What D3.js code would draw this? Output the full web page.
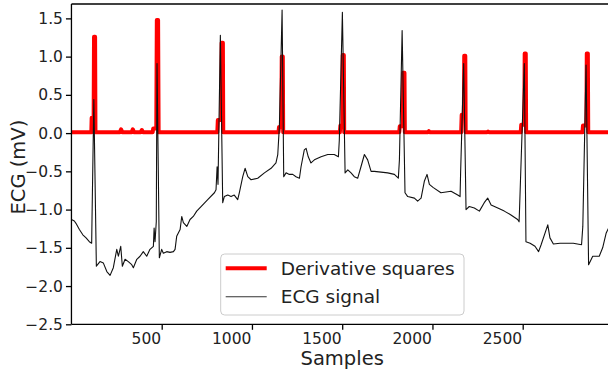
<!DOCTYPE html>
<html>
<head>
<meta charset="utf-8">
<script src="https://cdn.jsdelivr.net/npm/d3@7"></script>
<style>
  html, body { margin: 0; padding: 0; background: #fff; overflow: hidden; }
  svg { display: block; font-family: "DejaVu Sans", sans-serif; }
</style>
</head>
<body>
<svg id="chart"></svg>
<script>
// ECG signal: [sample, mV]
const ecgSignal = [
  [0,-1.13],[16,-1.15],[25,-1.18],[44,-1.26],[63,-1.33],[81,-1.37],[99,-1.42],[112,-1.44],[114,-1.11],[124,0.44],
  [138,-1.74],[158,-1.68],[177,-1.70],[196,-1.81],[214,-1.86],[232,-1.76],[251,-1.52],[260,-1.61],[273,-1.48],[282,-1.74],
  [297,-1.65],[315,-1.68],[334,-1.72],[343,-1.76],[362,-1.65],[380,-1.61],[398,-1.55],[417,-1.61],[435,-1.52],[454,-1.48],
  [458,-1.24],[463,-1.42],[470,-1.16],[474,0.91],[487,-1.63],[500,-1.52],[509,-1.57],[528,-1.55],[546,-1.56],[565,-1.55],
  [574,-1.52],[583,-1.35],[602,-1.26],[611,-1.09],[620,-1.17],[639,-1.22],[657,-1.13],[675,-1.09],[694,-1.02],[718,-0.96],
  [755,-0.87],[792,-0.78],[801,-0.74],[807,-0.44],[812,-0.67],[825,1.28],[838,-0.91],[847,-0.83],[866,-0.81],[884,-0.83],
  [902,-0.81],[921,-0.87],[930,-0.78],[949,-0.57],[962,-0.46],[977,-0.57],[995,-0.61],[1032,-0.59],[1069,-0.52],[1106,-0.46],
  [1133,-0.39],[1143,-0.28],[1152,0.09],[1167,1.61],[1176,-0.57],[1189,-0.52],[1207,-0.54],[1226,-0.54],[1244,-0.57],[1263,-0.59],
  [1272,-0.44],[1290,-0.22],[1300,-0.20],[1312,-0.31],[1327,-0.39],[1346,-0.35],[1383,-0.31],[1420,-0.28],[1456,-0.28],[1479,-0.31],
  [1484,-0.09],[1501,1.58],[1516,-0.52],[1531,-0.48],[1549,-0.52],[1567,-0.57],[1586,-0.59],[1604,-0.44],[1623,-0.28],[1641,-0.35],
  [1660,-0.50],[1678,-0.50],[1715,-0.51],[1752,-0.52],[1789,-0.54],[1811,-0.59],[1817,-0.35],[1832,1.34],[1848,-0.78],[1863,-0.83],
  [1900,-0.85],[1918,-0.89],[1937,-0.85],[1955,-0.63],[1970,-0.54],[1983,-0.67],[2003,-0.71],[2047,-0.78],[2103,-0.76],[2140,-0.81],
  [2153,-0.83],[2156,-0.52],[2173,0.91],[2186,-1.00],[2204,-0.96],[2232,-0.98],[2260,-1.02],[2287,-0.91],[2306,-0.85],[2325,-0.94],
  [2362,-0.98],[2398,-1.02],[2435,-1.07],[2472,-1.13],[2480,-1.16],[2483,-0.96],[2509,0.91],[2518,-1.42],[2541,-1.44],[2568,-1.48],
  [2588,-1.55],[2602,-1.46],[2639,-1.20],[2651,-1.37],[2670,-1.45],[2707,-1.44],[2780,-1.44],[2826,-1.46],[2833,-1.22],[2851,0.89],
  [2865,-1.72],[2888,-1.61],[2924,-1.61],[2943,-1.50],[2962,-1.31],[2980,-1.22]
];

// Derivative squares: [sample, value]
const derivSquares = [
  [0,0.01],[110,0.01],[112,0.2],[123,0.2],[125,1.26],[131,1.26],[133,0.01],
  [268,0.01],[275,0.05],[282,0.01],[333,0.01],[340,0.05],[347,0.01],[383,0.01],[390,0.04],[397,0.01],
  [450,0.01],[453,0.06],[470,0.06],[473,1.48],[480,1.48],[483,0.01],
  [808,0.01],[811,0.17],[830,0.17],[832,1.18],[839,1.18],[841,0.01],
  [1147,0.01],[1150,0.08],[1163,0.08],[1165,1.0],[1171,1.0],[1173,0.01],
  [1487,0.01],[1490,0.1],[1501,0.1],[1503,1.02],[1509,1.02],[1511,0.01],
  [1816,0.01],[1819,0.09],[1836,0.09],[1838,0.79],[1845,0.79],[1847,0.01],
  [1975,0.01],[1980,0.025],[1985,0.01],
  [2159,0.01],[2162,0.24],[2174,0.24],[2176,1.01],[2182,1.01],[2184,0.01],
  [2303,0.01],[2308,0.02],[2313,0.01],
  [2489,0.01],[2492,0.11],[2509,0.11],[2511,1.04],[2517,1.04],[2519,0.01],
  [2831,0.01],[2834,0.1],[2853,0.1],[2855,1.04],[2861,1.04],[2863,0.01],[3000,0.01]
];

const xTicks = [500, 1000, 1500, 2000, 2500];
const yTicks = [-2.5, -2.0, -1.5, -1.0, -0.5, 0.0, 0.5, 1.0, 1.5];
const seriesNames = ["Derivative squares", "ECG signal"];

const W = 608, H = 372;
const mLeft = 71.45, mRight = 612.95, mTop = 4, mBottom = 324.3;

const svg = d3.select("#chart").attr("width", W).attr("height", H);

const x = d3.scaleLinear().domain([0, 3000]).range([mLeft, mRight]);
const y = d3.scaleLinear().domain([-2.5, 1.688]).range([mBottom, mTop]);

svg.append("defs").append("clipPath").attr("id", "plotClip")
  .append("rect").attr("x", mLeft).attr("y", mTop).attr("width", mRight - mLeft).attr("height", mBottom - mTop);

const lineGen = d3.line().x(d => x(d[0])).y(d => y(d[1]));

const plot = svg.append("g").attr("clip-path", "url(#plotClip)");
plot.append("path").datum(derivSquares)
  .attr("fill", "none").attr("stroke", "#ff0000").attr("stroke-width", 4)
  .attr("stroke-linejoin", "round").attr("stroke-linecap", "round").attr("d", lineGen);
plot.append("path").datum(ecgSignal)
  .attr("fill", "none").attr("stroke", "#111").attr("stroke-width", 1.1)
  .attr("stroke-linejoin", "round").attr("d", lineGen);

// axes
const fmtY = d => d3.format(".1f")(d).replace("-", "\u2212");
const yAxis = svg.append("g").attr("transform", `translate(${mLeft},0)`)
  .call(d3.axisLeft(y).tickValues(yTicks).tickFormat(fmtY).tickSize(5.5).tickPadding(3));
const xAxis = svg.append("g").attr("transform", `translate(0,${mBottom})`)
  .call(d3.axisBottom(x).tickValues(xTicks).tickFormat(d3.format("d")).tickSize(5.5).tickPadding(3));
[xAxis, yAxis].forEach(g => {
  g.select(".domain").remove();
  g.selectAll(".tick line").attr("stroke", "#000").attr("stroke-width", 1.3);
  g.selectAll(".tick text").attr("fill", "#222").attr("font-size", 15.5).attr("font-family", "DejaVu Sans");
});
// x labels sit to the left of their tick marks in the reference
xAxis.selectAll(".tick text").attr("text-anchor", "end").attr("x", -1);

// spines
svg.append("line").attr("x1", mLeft).attr("x2", W).attr("y1", mTop).attr("y2", mTop).attr("stroke", "#000").attr("stroke-width", 1.3);
svg.append("line").attr("x1", mLeft).attr("x2", W).attr("y1", mBottom).attr("y2", mBottom).attr("stroke", "#000").attr("stroke-width", 1.3);
svg.append("line").attr("x1", mLeft).attr("x2", mLeft).attr("y1", mTop).attr("y2", mBottom).attr("stroke", "#000").attr("stroke-width", 1.3);

// labels
svg.append("text").attr("x", (mLeft + mRight) / 2).attr("y", 364.5).attr("text-anchor", "middle")
  .attr("font-size", 19.5).attr("fill", "#222").text("Samples");
svg.append("text").attr("transform", `translate(25,${(mTop + mBottom) / 2 + 3}) rotate(-90)`).attr("text-anchor", "middle")
  .attr("font-size", 19.5).attr("fill", "#222").text("ECG (mV)");

// legend
const lg = svg.append("g").attr("transform", "translate(220.7,254)");
lg.append("rect").attr("width", 243.3).attr("height", 61).attr("rx", 4)
  .attr("fill", "#fff").attr("fill-opacity", 0.85).attr("stroke", "#ccc").attr("stroke-width", 1);
const legendStyles = [{ color: "#ff0000", w: 4 }, { color: "#333", w: 1.1 }];
seriesNames.forEach((name, i) => {
  const yy = 14.3 + i * 28.4;
  lg.append("line").attr("x1", 5).attr("x2", 46).attr("y1", yy).attr("y2", yy)
    .attr("stroke", legendStyles[i].color).attr("stroke-width", legendStyles[i].w);
  lg.append("text").attr("x", 60).attr("y", yy + 6.5).attr("font-size", 18.5).attr("fill", "#222").text(name);
});
</script>
</body>
</html>
